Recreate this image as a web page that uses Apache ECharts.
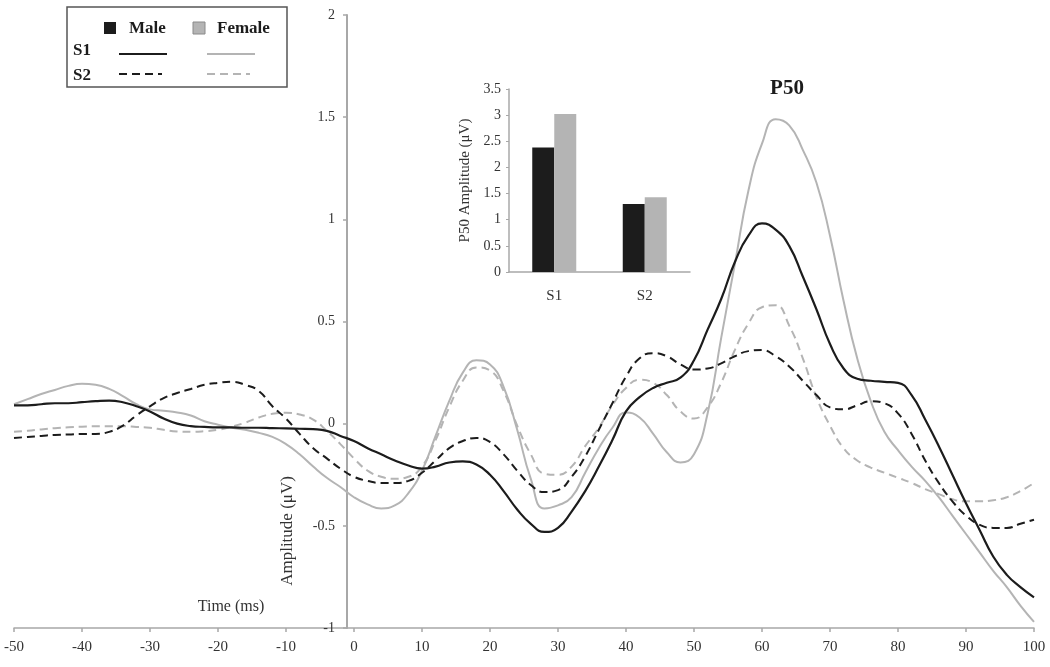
<!DOCTYPE html>
<html>
<head>
<meta charset="utf-8">
<script src="https://cdn.jsdelivr.net/npm/echarts@6.0.0/dist/echarts.min.js"></script>
<style>
  html, body { margin: 0; padding: 0; background: #ffffff; }
  #chart { width: 1050px; height: 667px; }
</style>
</head>
<body>
<div id="chart"></div>
<script>
// ---- Data ----
const timeMs = [-50,-48,-46,-44,-42,-40,-38,-36,-34,-32,-30,-28,-26,-24,-22,-20,-18,-16,-14,-12,
  -10,-8,-6,-4,-2,0,2,4,6,8,10,12,14,16,18,20,22,24,26,28,30,32,34,36,38,40,42,44,46,48,
  50,52,54,56,58,60,62,64,66,68,70,72,74,76,78,80,82,84,86,88,90,92,94,96,98,100];

const maleS1 = [0.09,0.09,0.095,0.10,0.10,0.105,0.11,0.113,0.105,0.085,
  0.06,0.025,0.0,-0.012,-0.016,-0.018,-0.018,-0.02,-0.02,-0.022,
  -0.023,-0.025,-0.027,-0.035,-0.06,-0.085,-0.12,-0.15,-0.18,-0.205,
  -0.22,-0.21,-0.19,-0.185,-0.20,-0.25,-0.33,-0.42,-0.49,-0.53,
  -0.51,-0.43,-0.33,-0.21,-0.08,0.06,0.13,0.175,0.20,0.225,
  0.31,0.46,0.61,0.79,0.92,0.98,0.95,0.87,0.72,0.56,
  0.39,0.27,0.22,0.21,0.205,0.20,0.14,0.02,-0.11,-0.25,
  -0.39,-0.52,-0.65,-0.74,-0.80,-0.85];

const femaleS1 = [0.095,0.12,0.145,0.165,0.185,0.195,0.19,0.17,0.135,0.095,
  0.07,0.063,0.055,0.04,0.012,-0.005,-0.02,-0.03,-0.045,-0.065,
  -0.10,-0.15,-0.21,-0.265,-0.31,-0.36,-0.395,-0.415,-0.40,-0.34,
  -0.23,-0.06,0.11,0.25,0.31,0.29,0.18,-0.03,-0.27,-0.415,
  -0.40,-0.36,-0.24,-0.12,-0.02,0.055,0.03,-0.05,-0.14,-0.19,
  -0.15,0.05,0.42,0.78,1.14,1.37,1.49,1.46,1.34,1.18,
  0.92,0.60,0.32,0.11,-0.04,-0.13,-0.21,-0.28,-0.36,-0.45,
  -0.54,-0.63,-0.72,-0.80,-0.89,-0.97];

const maleS2 = [-0.07,-0.065,-0.06,-0.055,-0.053,-0.05,-0.05,-0.04,-0.01,0.04,
  0.085,0.125,0.15,0.17,0.19,0.20,0.205,0.19,0.16,0.085,
  0.025,-0.05,-0.12,-0.17,-0.22,-0.26,-0.28,-0.29,-0.29,-0.28,
  -0.24,-0.18,-0.12,-0.085,-0.07,-0.09,-0.15,-0.23,-0.30,-0.335,
  -0.325,-0.26,-0.16,-0.03,0.10,0.23,0.32,0.345,0.33,0.29,
  0.265,0.27,0.295,0.33,0.355,0.36,0.33,0.28,0.21,0.14,
  0.08,0.07,0.09,0.11,0.10,0.05,-0.05,-0.18,-0.29,-0.38,
  -0.45,-0.495,-0.51,-0.51,-0.49,-0.47];

const femaleS2 = [-0.04,-0.035,-0.028,-0.022,-0.018,-0.015,-0.013,-0.013,-0.013,-0.016,
  -0.02,-0.03,-0.038,-0.04,-0.037,-0.03,-0.015,0.005,0.03,0.048,
  0.053,0.045,0.02,-0.035,-0.10,-0.17,-0.23,-0.26,-0.27,-0.26,
  -0.21,-0.08,0.08,0.21,0.275,0.26,0.16,-0.01,-0.15,-0.245,
  -0.25,-0.21,-0.11,-0.02,0.09,0.175,0.215,0.20,0.14,0.06,
  0.025,0.08,0.20,0.36,0.49,0.57,0.58,0.48,0.32,0.13,
  -0.01,-0.12,-0.18,-0.215,-0.24,-0.265,-0.29,-0.32,-0.345,-0.37,
  -0.38,-0.38,-0.375,-0.36,-0.33,-0.29];

const barCategories = ['S1', 'S2'];
const maleP50 = [2.38, 1.30];
const femaleP50 = [3.02, 1.43];

// ---- Styling ----
const FONT = '"Liberation Serif", "Times New Roman", serif';
const BLACK = '#1c1c1c';
const GRAY = '#b4b4b4';
const AXIS = '#a8a8a8';
const TEXT = '#333333';

function pairs(vals) { return timeMs.map((t, i) => [t, vals[i]]); }

function lineSeries(name, vals, color, width, dashed) {
  return {
    name: name, type: 'line', xAxisIndex: 0, yAxisIndex: 0,
    data: pairs(vals), showSymbol: false, smooth: 0.5,
    lineStyle: { color: color, width: width, type: dashed ? [8, 5] : 'solid' },
    emphasis: { disabled: true }, silent: true, z: 3
  };
}

const chart = echarts.init(document.getElementById('chart'), null, { renderer: 'canvas' });

const option = {
  animation: false,
  backgroundColor: '#ffffff',
  textStyle: { fontFamily: FONT },
  grid: [
    { left: 14, right: 16, top: 15, bottom: 39, outerBoundsMode: 'none', containLabel: false },
    { left: 509, top: 89, width: 181, height: 183, outerBoundsMode: 'none', containLabel: false }
  ],
  xAxis: [
    {
      type: 'value', gridIndex: 0, min: -50, max: 100, interval: 10,
      axisLine: { onZero: false, lineStyle: { color: AXIS, width: 1.5 } },
      axisTick: { show: true, length: 4, lineStyle: { color: AXIS, width: 1.5 } },
      axisLabel: { fontSize: 15, color: TEXT, margin: 12, fontFamily: FONT, showMinLabel: true, showMaxLabel: true },
      splitLine: { show: false }
    },
    {
      type: 'category', gridIndex: 1, data: barCategories,
      axisLine: { lineStyle: { color: AXIS, width: 1.5 } },
      axisTick: { show: false },
      axisLabel: { fontSize: 15, color: TEXT, margin: 17, fontFamily: FONT },
      splitLine: { show: false }
    }
  ],
  yAxis: [
    {
      // axis drawn at t = -1 ms (pixel 347), shifted from the grid's left edge
      type: 'value', gridIndex: 0, min: -1, max: 2, interval: 0.5,
      position: 'left', offset: -333,
      axisLine: { show: true, onZero: false, lineStyle: { color: AXIS, width: 2 } },
      axisTick: { show: true, length: 4, lineStyle: { color: AXIS, width: 1.5 } },
      axisLabel: { fontSize: 14, color: TEXT, margin: 12, fontFamily: FONT, showMinLabel: true, showMaxLabel: true },
      splitLine: { show: false }
    },
    {
      type: 'value', gridIndex: 1, min: 0, max: 3.5, interval: 0.5,
      name: 'P50 Amplitude (μV)', nameLocation: 'middle', nameGap: 36,
      nameTextStyle: { fontSize: 15, color: TEXT, fontFamily: FONT },
      axisLine: { show: true, lineStyle: { color: AXIS, width: 1.5 } },
      axisTick: { show: true, length: 3, lineStyle: { color: AXIS } },
      axisLabel: { fontSize: 14, color: TEXT, margin: 8, fontFamily: FONT },
      splitLine: { show: false }
    }
  ],
  series: [
    lineSeries('Female S2', femaleS2, GRAY, 2, true),
    lineSeries('Female S1', femaleS1, GRAY, 2, false),
    lineSeries('Male S2', maleS2, BLACK, 2, true),
    lineSeries('Male S1', maleS1, BLACK, 2.2, false),
    {
      name: 'Male', type: 'bar', xAxisIndex: 1, yAxisIndex: 1, data: maleP50,
      barWidth: 22, barGap: '0%', itemStyle: { color: BLACK }, silent: true
    },
    {
      name: 'Female', type: 'bar', xAxisIndex: 1, yAxisIndex: 1, data: femaleP50,
      barWidth: 22, barGap: '0%', itemStyle: { color: GRAY }, silent: true
    }
  ],
  graphic: [
    { type: 'text', x: 231, y: 607, silent: true,
      style: { text: 'Time (ms)', font: '16px ' + FONT, fill: TEXT, align: 'center', verticalAlign: 'middle', textAlign: 'center', textVerticalAlign: 'middle' } },
    { type: 'text', x: 288, y: 531, rotation: Math.PI / 2, silent: true,
      style: { text: 'Amplitude (μV)', font: '17px ' + FONT, fill: TEXT, align: 'center', verticalAlign: 'middle', textAlign: 'center', textVerticalAlign: 'middle' } },
    { type: 'text', x: 787, y: 89, silent: true,
      style: { text: 'P50', font: 'bold 21px ' + FONT, fill: BLACK, align: 'center', verticalAlign: 'middle', textAlign: 'center', textVerticalAlign: 'middle' } },
    { type: 'rect', shape: { x: 67, y: 7, width: 220, height: 80 }, silent: true,
      style: { fill: '#ffffff', stroke: '#555555', lineWidth: 1.5 } },
    { type: 'rect', shape: { x: 104, y: 22, width: 12, height: 12 }, silent: true,
      style: { fill: BLACK } },
    { type: 'text', x: 129, y: 29, silent: true,
      style: { text: 'Male', font: 'bold 17px ' + FONT, fill: BLACK, align: 'left', verticalAlign: 'middle', textAlign: 'left', textVerticalAlign: 'middle' } },
    { type: 'rect', shape: { x: 193, y: 22, width: 12, height: 12 }, silent: true,
      style: { fill: GRAY, stroke: '#8a8a8a', lineWidth: 1 } },
    { type: 'text', x: 217, y: 29, silent: true,
      style: { text: 'Female', font: 'bold 17px ' + FONT, fill: BLACK, align: 'left', verticalAlign: 'middle', textAlign: 'left', textVerticalAlign: 'middle' } },
    { type: 'text', x: 73, y: 51, silent: true,
      style: { text: 'S1', font: 'bold 17px ' + FONT, fill: BLACK, align: 'left', verticalAlign: 'middle', textAlign: 'left', textVerticalAlign: 'middle' } },
    { type: 'text', x: 73, y: 76, silent: true,
      style: { text: 'S2', font: 'bold 17px ' + FONT, fill: BLACK, align: 'left', verticalAlign: 'middle', textAlign: 'left', textVerticalAlign: 'middle' } },
    { type: 'line', shape: { x1: 119, y1: 54, x2: 167, y2: 54 }, silent: true,
      style: { stroke: BLACK, lineWidth: 2.2 } },
    { type: 'line', shape: { x1: 207, y1: 54, x2: 255, y2: 54 }, silent: true,
      style: { stroke: GRAY, lineWidth: 2 } },
    { type: 'line', shape: { x1: 119, y1: 74, x2: 162, y2: 74 }, silent: true,
      style: { stroke: BLACK, lineWidth: 2.2, lineDash: [8, 5] } },
    { type: 'line', shape: { x1: 207, y1: 74, x2: 250, y2: 74 }, silent: true,
      style: { stroke: GRAY, lineWidth: 2, lineDash: [8, 5] } }
  ]
};

chart.setOption(option);
</script>
</body>
</html>
